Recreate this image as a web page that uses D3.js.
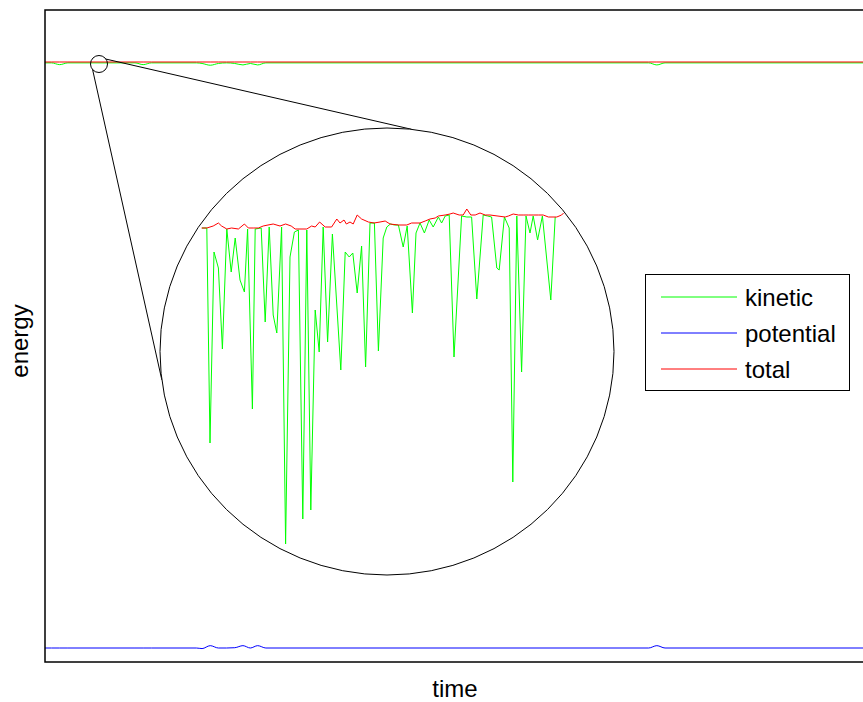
<!DOCTYPE html>
<html>
<head>
<meta charset="utf-8">
<script src="https://cdn.jsdelivr.net/npm/d3@7"></script>
<style>
  html, body { margin: 0; padding: 0; background: #fff; }
  svg { display: block; }
  text { font-family: "Liberation Sans", Arial, sans-serif; }
</style>
</head>
<body>
<svg id="chart" width="863" height="702"></svg>
<script>
// ---------- data: main series ----------
const mainTime = [0, 8, 18, 28, 110, 120, 130, 185, 192, 202, 212, 222, 232, 242, 251, 260, 270, 738, 748, 758, 1000];
const kinetic = [9.985, 9.985, 9.955, 9.985, 9.985, 9.955, 9.985, 9.985, 9.975, 9.945, 9.975, 9.985, 9.975, 9.950, 9.975, 9.950, 9.985, 9.985, 9.950, 9.985, 9.985];
const potential = [0, 0, 0, 0, 0, 0, 0, 0, -0.01, 0.04, 0, 0, 0.005, 0.04, 0, 0.04, 0, 0, 0.04, 0, 0];
const total = [10, 10, 10, 10, 10, 10, 10, 10, 10, 10, 10, 10, 10, 10, 10, 10, 10, 10, 10, 10, 10];

// ---------- data: magnified inset ----------
const insetKineticTime = [0.5, 1.7, 2.5, 3.5, 4.6, 5.6, 6.7, 7.8, 8.8, 10.0, 11.1, 11.9, 13.1, 13.8, 15.3, 16.3, 17.3, 18.3, 19.2, 20.4, 21.4, 22.5, 23.6, 24.6, 25.7, 26.7, 27.7, 28.8, 29.8, 30.8, 31.9, 33.1, 35.2, 36.3, 37.3, 38.2, 39.3, 40.4, 41.4, 42.5, 43.6, 44.6, 45.8, 46.7, 47.6, 48.6, 49.6, 50.8, 51.8, 53.1, 54.0, 55.0, 56.1, 57.3, 58.3, 59.6, 60.4, 61.3, 62.3, 63.5, 65.4, 66.7, 67.9, 69.2, 70.8, 71.9, 72.9, 74.2, 74.8, 76.1, 77.3, 78.2, 79.2, 80.4, 81.5, 82.5, 83.3, 84.4, 85.6, 87.7, 88.8];
const insetKinetic = [10.000, 10.000, 9.785, 9.976, 9.960, 9.879, 9.999, 9.956, 9.990, 9.948, 9.936, 9.999, 9.819, 9.999, 10.000, 9.906, 10.001, 9.913, 9.895, 10.001, 9.684, 9.971, 9.996, 9.998, 9.709, 9.998, 9.718, 9.918, 9.876, 10.001, 9.886, 9.994, 9.858, 9.976, 9.971, 9.975, 9.935, 9.982, 9.861, 10.005, 10.005, 9.877, 9.990, 10.001, 10.004, 10.003, 10.003, 9.981, 10.002, 9.915, 9.995, 10.005, 9.995, 10.008, 10.001, 10.011, 10.005, 10.012, 10.013, 9.871, 10.012, 10.011, 10.011, 9.929, 10.013, 10.012, 10.011, 9.960, 9.958, 10.011, 10.000, 9.746, 10.012, 9.856, 10.012, 9.995, 10.012, 9.988, 10.012, 9.928, 10.011];
const insetTotalTime = [0.4, 1.7, 3.3, 4.6, 5.4, 6.7, 7.9, 9.6, 11.1, 12.1, 13.3, 14.6, 15.8, 17.0, 18.3, 20.0, 21.4, 22.8, 23.8, 26.7, 27.9, 28.8, 29.9, 31.3, 32.9, 34.2, 35.0, 36.0, 36.6, 37.5, 38.3, 39.3, 40.4, 42.1, 43.5, 45.0, 46.3, 47.5, 49.6, 51.7, 52.9, 55.0, 56.3, 57.5, 58.8, 59.6, 61.3, 62.5, 63.3, 64.8, 65.8, 66.7, 67.7, 68.8, 70.0, 71.3, 72.5, 76.3, 77.1, 78.3, 79.6, 80.8, 82.1, 83.3, 84.6, 85.8, 87.1, 89.2, 90.4, 90.9];
const insetTotal = [10.000, 10.000, 10.002, 10.005, 10.002, 9.999, 10.000, 9.999, 10.004, 10.000, 10.000, 10.000, 10.002, 10.003, 10.004, 10.002, 10.004, 10.002, 9.999, 9.999, 10.002, 10.001, 10.006, 10.001, 10.001, 10.009, 10.005, 10.008, 10.004, 10.006, 10.004, 10.013, 10.009, 10.006, 10.005, 10.006, 10.007, 10.004, 10.003, 10.003, 10.005, 10.005, 10.007, 10.009, 10.010, 10.012, 10.013, 10.014, 10.015, 10.013, 10.013, 10.019, 10.013, 10.013, 10.015, 10.013, 10.013, 10.011, 10.012, 10.014, 10.013, 10.013, 10.013, 10.013, 10.013, 10.013, 10.011, 10.011, 10.013, 10.015];

const seriesNames = ["kinetic", "potential", "total"];
const seriesColors = ["#00ff00", "#0000ff", "#ff0000"];

// ---------- layout ----------
const svg = d3.select("#chart");
const plot = { left: 45, top: 10, right: 863, bottom: 662 };

const x = d3.scaleLinear().domain([0, 1000]).range([plot.left, plot.right]);
const y = d3.scaleLinear().domain([0, 10]).range([648, 62]);

const defs = svg.append("defs");
defs.append("clipPath").attr("id", "plotclip")
  .append("rect").attr("x", plot.left).attr("y", plot.top)
  .attr("width", plot.right - plot.left).attr("height", plot.bottom - plot.top);

const line = (vals) => d3.line()
  .x((d, i) => x(mainTime[i]))
  .y(d => y(d))
  .curve(d3.curveMonotoneX)(vals);

const g = svg.append("g").attr("clip-path", "url(#plotclip)");
[[kinetic, 0], [potential, 1], [total, 2]].forEach(([vals, k]) => {
  g.append("path").attr("d", line(vals)).attr("fill", "none")
    .attr("stroke", seriesColors[k]).attr("stroke-width", 1);
});

// frame
svg.append("rect").attr("x", plot.left).attr("y", plot.top)
  .attr("width", plot.right - plot.left + 20).attr("height", plot.bottom - plot.top)
  .attr("fill", "none").attr("stroke", "#000").attr("stroke-width", 1.5);

// axis titles
svg.append("text").attr("x", 455).attr("y", 697).attr("text-anchor", "middle")
  .attr("font-size", 24).text("time");
svg.append("text").attr("transform", "translate(28,341) rotate(-90)")
  .attr("text-anchor", "middle").attr("font-size", 24).text("energy");

// ---------- magnifier ----------
const small = { cx: 99, cy: 64, rx: 8.5, ry: 8.5 };
const big = { cx: 387, cy: 351.5, rx: 227, ry: 223.5 };
const deg = Math.PI / 180;
const pt = (c, a) => [c.cx + c.rx * Math.cos(a * deg), c.cy + c.ry * Math.sin(a * deg)];
const connectors = [[139, 172.7], [-35.5, -83.8]];
connectors.forEach(([a, b]) => {
  const p1 = pt(small, a), p2 = pt(big, b);
  svg.append("line").attr("x1", p1[0]).attr("y1", p1[1]).attr("x2", p2[0]).attr("y2", p2[1])
    .attr("stroke", "#000").attr("stroke-width", 1);
});
svg.append("ellipse").attr("cx", small.cx).attr("cy", small.cy).attr("rx", small.rx).attr("ry", small.ry)
  .attr("fill", "none").attr("stroke", "#000").attr("stroke-width", 1);
svg.append("ellipse").attr("cx", big.cx).attr("cy", big.cy).attr("rx", big.rx).attr("ry", big.ry)
  .attr("fill", "#fff").attr("stroke", "#000").attr("stroke-width", 1);

defs.append("clipPath").attr("id", "bigclip")
  .append("ellipse").attr("cx", big.cx).attr("cy", big.cy).attr("rx", big.rx - 0.5).attr("ry", big.ry - 0.5);

const xi = d3.scaleLinear().domain([0, 90]).range([200, 560]);
const yi = d3.scaleLinear().domain([9.7, 10.0]).range([528, 228]);
const gi = svg.append("g").attr("clip-path", "url(#bigclip)");
gi.append("path")
  .attr("d", d3.line().x((d, i) => xi(insetKineticTime[i])).y(d => yi(d))(insetKinetic))
  .attr("fill", "none").attr("stroke", seriesColors[0]).attr("stroke-width", 1);
gi.append("path")
  .attr("d", d3.line().x((d, i) => xi(insetTotalTime[i])).y(d => yi(d))(insetTotal))
  .attr("fill", "none").attr("stroke", seriesColors[2]).attr("stroke-width", 1);

// ---------- legend ----------
const lg = svg.append("g");
lg.append("rect").attr("x", 645.5).attr("y", 274.5).attr("width", 204).attr("height", 116)
  .attr("fill", "#fff").attr("stroke", "#000").attr("stroke-width", 1);
seriesNames.forEach((name, i) => {
  const yy = 297 + i * 36;
  lg.append("line").attr("x1", 661).attr("x2", 737).attr("y1", yy).attr("y2", yy)
    .attr("stroke", seriesColors[i]).attr("stroke-width", 1);
  lg.append("text").attr("x", 745).attr("y", yy + 9).attr("font-size", 24).text(name);
});
</script>
</body>
</html>
